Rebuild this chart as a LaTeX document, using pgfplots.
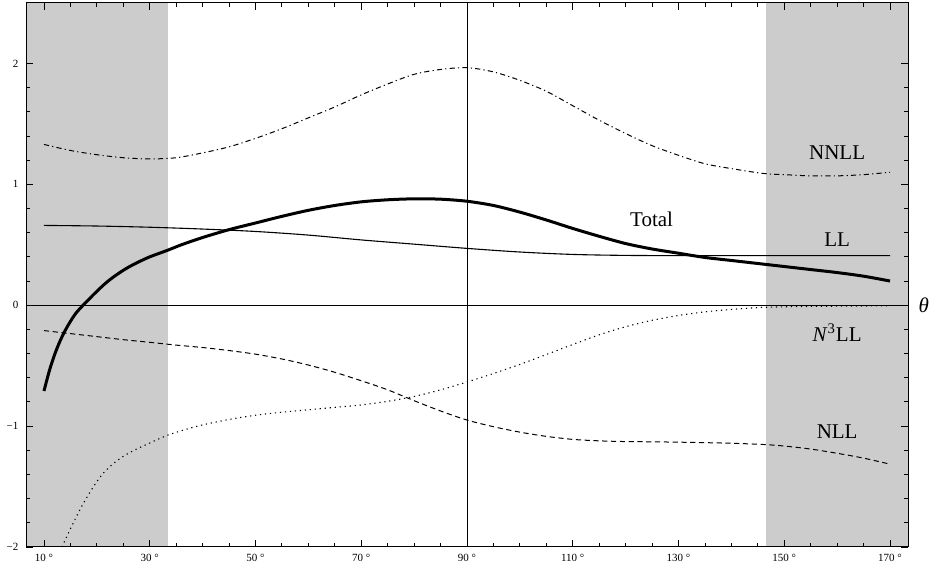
\documentclass[border=0pt]{standalone}
\usepackage{pgfplots}
\pgfplotsset{compat=1.18}
\usepackage{fontspec}
\setmainfont{Liberation Serif}
\definecolor{shade}{RGB}{204,204,204}
\begin{document}
\begin{tikzpicture}
\begin{axis}[
  name=ax,
  scale only axis,
  width=441pt, height=272pt,
  xmin=6.6, xmax=173.4, ymin=-2, ymax=2.5,
  clip=false,
  axis on top,
  axis line style={line width=0.5pt},
  tick align=inside,
  tick style={black, line width=0.45pt},
  major tick length=3.4pt,
  minor tick length=1.8pt,
  xtick={10,30,50,70,90,110,130,150,170},
  xticklabels={10~°,30~°,50~°,70~°,90~°,110~°,130~°,150~°,170~°},
  minor x tick num=3,
  ytick={-2,-1,0,1,2},
  yticklabels={−2,−1,0,1,2},
  minor y tick num=4,
  ticklabel style={font=\fontsize{5.5}{6}\selectfont},
  xticklabel style={yshift=-0.3pt},
  yticklabel style={xshift=-0.3pt},
]
% shaded regions
\addplot[draw=none, fill=shade, forget plot] coordinates {(6.6,-2) (33.4,-2) (33.4,2.5) (6.6,2.5)} -- cycle;
\addplot[draw=none, fill=shade, forget plot] coordinates {(146.6,-2) (173.4,-2) (173.4,2.5) (146.6,2.5)} -- cycle;
% axes through the origin
\addplot[black, line width=0.5pt] coordinates {(6.6,0) (173.4,0)};
\addplot[black, line width=0.4pt] coordinates {(90,-2) (90,2.5)};

% NNLL (dash-dot)
\addplot[black, line width=0.5pt, smooth, dash pattern=on 2.6pt off 1.6pt on 0.6pt off 1.6pt] coordinates {
(10,1.33) (15,1.28) (20,1.245) (25,1.22) (30,1.21) (35,1.22) (40,1.26) (45,1.31)
(50,1.38) (55,1.46) (60,1.55) (65,1.64) (70,1.74) (75,1.83) (80,1.91) (85,1.95)
(90,1.965) (95,1.93) (100,1.86) (105,1.77) (110,1.65) (115,1.53) (120,1.42)
(125,1.32) (130,1.24) (135,1.17) (140,1.13) (146,1.09) (150,1.08) (155,1.07)
(160,1.07) (165,1.08) (170,1.10)};

% LL (thin solid)
\addplot[black, line width=0.55pt, smooth] coordinates {
(10,0.66) (20,0.655) (30,0.645) (40,0.63) (50,0.61) (60,0.58) (70,0.54) (80,0.505)
(90,0.47) (100,0.44) (110,0.42) (120,0.412) (130,0.41) (140,0.41) (155,0.41) (170,0.41)};

% Total (thick)
\addplot[black, line width=1.5pt, smooth] coordinates {
(10,-0.71) (11,-0.545) (12,-0.41) (13,-0.30) (14,-0.21) (15,-0.134) (16,-0.068)
(17.4,0.0) (20,0.115) (22,0.195) (24,0.26) (26,0.315) (28,0.36) (30,0.40)
(33.4,0.455) (36,0.50) (40,0.56) (45,0.625) (50,0.68) (55,0.735) (60,0.785)
(65,0.825) (70,0.855) (75,0.872) (80,0.88) (85,0.877) (90,0.86) (95,0.825)
(100,0.77) (105,0.705) (110,0.635) (115,0.57) (120,0.51) (125,0.465) (130,0.43)
(135,0.395) (140,0.37) (146,0.34) (150,0.32) (155,0.295) (160,0.27) (165,0.24) (170,0.20)};

% NLL (dashed)
\addplot[black, line width=0.5pt, smooth, dash pattern=on 2.6pt off 1.8pt] coordinates {
(10,-0.21) (15,-0.235) (20,-0.26) (25,-0.285) (30,-0.307) (35,-0.33) (40,-0.35)
(45,-0.375) (50,-0.405) (55,-0.445) (60,-0.495) (65,-0.555) (70,-0.625) (75,-0.70)
(80,-0.79) (85,-0.875) (90,-0.95) (95,-1.005) (100,-1.05) (105,-1.085) (110,-1.11)
(115,-1.122) (120,-1.128) (125,-1.13) (130,-1.133) (135,-1.137) (140,-1.142)
(146,-1.152) (150,-1.165) (155,-1.19) (160,-1.225) (165,-1.265) (170,-1.315)};

% N3LL (dotted)
\addplot[black, line width=0.55pt, smooth, dash pattern=on 0.6pt off 1.9pt] coordinates {
(13.4,-2.0) (15,-1.85) (17,-1.675) (19,-1.525) (21,-1.40) (23,-1.315) (25,-1.25)
(27.5,-1.19) (30,-1.14) (33.4,-1.075) (37,-1.025) (40,-0.99) (45,-0.945) (50,-0.91)
(55,-0.885) (60,-0.865) (65,-0.845) (70,-0.825) (75,-0.795) (80,-0.755) (85,-0.70)
(90,-0.635) (95,-0.565) (100,-0.49) (105,-0.408) (110,-0.325) (115,-0.245)
(120,-0.178) (125,-0.125) (130,-0.085) (135,-0.055) (140,-0.035) (146,-0.018)
(155,-0.01) (170,-0.005)};

% labels
\node[font=\fontsize{10.5}{12}\selectfont] at (axis cs:124.9,0.71) {Total};
\node[font=\fontsize{10.5}{12}\selectfont] at (axis cs:160,1.264) {NNLL};
\node[font=\fontsize{10.5}{12}\selectfont] at (axis cs:160,0.543) {LL};
\node[font=\fontsize{10.5}{12}\selectfont] at (axis cs:160,-0.23) {\itshape N\/\upshape\textsuperscript{3}LL};
\node[font=\fontsize{10.5}{12}\selectfont] at (axis cs:160,-1.047) {NLL};
\node[font=\fontsize{10.5}{12}\selectfont\itshape] at (axis cs:176.4,0) {θ};
\end{axis}
\pgfresetboundingbox
\useasboundingbox ([xshift=-13pt,yshift=-10pt]ax.south west) rectangle ([xshift=11pt,yshift=1.5pt]ax.north east);
\end{tikzpicture}
\end{document}
